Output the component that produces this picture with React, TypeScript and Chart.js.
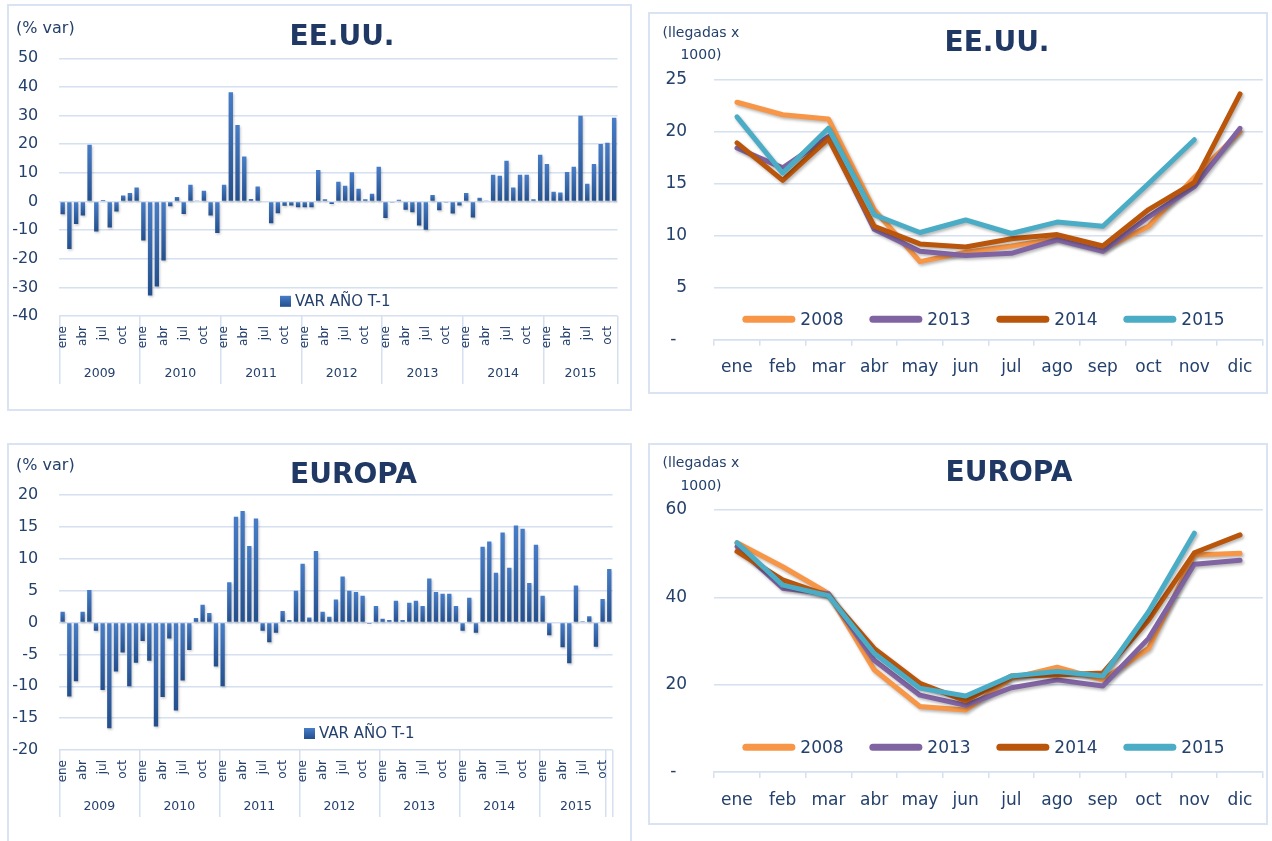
import React, { useEffect, useRef } from 'react';
import { Chart, registerables } from 'chart.js';

Chart.register(...registerables);

const FONT = '"DejaVu Sans", "Liberation Sans", sans-serif';
const TICK_COLOR = '#24406C';
const TITLE_COLOR = '#1F3864';
const GRID_COLOR = '#D5E0F0';
const PANEL_BORDER = '#D9E3F3';

// ---------- categories ----------
const MONTHS = ['ene', 'feb', 'mar', 'abr', 'may', 'jun', 'jul', 'ago', 'sep', 'oct', 'nov', 'dic'];
const SHOWN_MONTHS = ['ene', 'abr', 'jul', 'oct'];
const YEARS = ['2009', '2010', '2011', '2012', '2013', '2014', '2015'];
const MONTHS_PER_YEAR = [12, 12, 12, 12, 12, 12, 11];
const BAR_SERIES_LABEL = 'VAR AÑO T-1';
const LINE_YEARS = ['2008', '2013', '2014', '2015'];
const LINE_COLORS = ['#F79646', '#8064A2', '#BA560C', '#4BACC6'];

// ---------- EE.UU. % var (monthly, 2009 - nov 2015) ----------
const usaVar2009 = [-4.5, -16.6, -7.9, -4.9, 19.8, -10.5, 0.5, -9.1, -3.5, 2.1, 3.0, 4.9];
const usaVar2010 = [-13.6, -32.8, -29.7, -20.6, -1.7, 1.6, -4.4, 5.8, 0.2, 3.7, -4.9, -11.0];
const usaVar2011 = [5.8, 38.1, 26.7, 15.7, 0.9, 5.2, 0.0, -7.6, -4.1, -1.5, -1.4, -2.0];
const usaVar2012 = [-2.0, -2.0, 11.0, 0.8, -0.9, 6.9, 5.5, 10.2, 4.4, 0.8, 2.7, 12.1];
const usaVar2013 = [-5.8, -0.2, 0.6, -2.9, -3.8, -8.4, -9.9, 2.3, -3.1, -0.2, -4.2, -1.4];
const usaVar2014 = [3.0, -5.6, 1.3, 0.3, 9.3, 9.0, 14.2, 4.9, 9.3, 9.3, 0.8, 16.3];
const usaVar2015 = [13.1, 3.4, 3.1, 10.3, 12.1, 29.9, 6.2, 13.1, 20.1, 20.5, 29.2];

// ---------- EUROPA % var ----------
const euVar2009 = [1.7, -11.6, -9.2, 1.7, 5.1, -1.3, -10.6, -16.6, -7.7, -4.7, -10.0, -6.3];
const euVar2010 = [-2.9, -6.0, -16.3, -11.7, -2.5, -13.8, -9.1, -4.3, 0.7, 2.8, 1.5, -6.9];
const euVar2011 = [-10.0, 6.3, 16.6, 17.5, 12.0, 16.3, -1.3, -3.1, -1.6, 1.8, 0.4, 5.0];
const euVar2012 = [9.2, 0.8, 11.2, 1.7, 0.9, 3.6, 7.2, 5.0, 4.8, 4.2, -0.2, 2.6];
const euVar2013 = [0.6, 0.4, 3.4, 0.4, 3.1, 3.4, 2.6, 6.9, 4.8, 4.5, 4.5, 2.6];
const euVar2014 = [-1.3, 3.9, -1.6, 11.9, 12.7, 7.8, 14.1, 8.6, 15.2, 14.7, 6.2, 12.2];
const euVar2015 = [4.2, -2.0, 0.0, -3.9, -6.4, 5.8, 0.2, 1.0, -3.8, 3.7, 8.4];

// ---------- arrivals x 1000 ----------
const usa2008 = [22.8, 21.6, 21.2, 12.5, 7.5, 8.4, 9.0, 9.7, 8.7, 10.9, 15.6, 20.0];
const usa2013 = [18.4, 16.5, 19.5, 10.6, 8.5, 8.1, 8.3, 9.6, 8.5, 11.8, 14.7, 20.3];
const usa2014 = [18.9, 15.3, 19.3, 10.9, 9.2, 8.9, 9.7, 10.1, 9.0, 12.5, 15.1, 23.6];
const usa2015 = [21.4, 16.0, 20.3, 12.0, 10.3, 11.5, 10.2, 11.3, 10.9, 15.0, 19.2, null];

const eu2008 = [52.5, 47.0, 40.9, 23.4, 15.0, 14.2, 21.5, 24.0, 21.1, 28.3, 49.7, 50.1];
const eu2013 = [51.6, 42.1, 40.8, 25.6, 17.6, 15.3, 19.3, 21.1, 19.7, 30.6, 47.6, 48.5];
const eu2014 = [50.5, 44.0, 40.4, 28.3, 20.3, 16.3, 22.0, 22.2, 22.7, 34.8, 50.2, 54.3];
const eu2015 = [52.5, 42.8, 40.4, 27.2, 19.2, 17.4, 22.0, 23.0, 22.0, 36.7, 54.7, null];

// ---------- derived tables ----------
const monthlyLabels = YEARS.flatMap((_, i) => MONTHS.slice(0, MONTHS_PER_YEAR[i]));
const yearStarts: number[] = [];
MONTHS_PER_YEAR.forEach((n, i) => yearStarts.push(i === 0 ? 0 : yearStarts[i - 1] + MONTHS_PER_YEAR[i - 1]));
const yearCenters = yearStarts.map((s, i) => s + (MONTHS_PER_YEAR[i] - 1) / 2);
const usaVar = [usaVar2009, usaVar2010, usaVar2011, usaVar2012, usaVar2013, usaVar2014, usaVar2015].flat();
const euVar = [euVar2009, euVar2010, euVar2011, euVar2012, euVar2013, euVar2014, euVar2015].flat();

const BAR_TOP = '#477DC8';
const BAR_BOTTOM = '#244F8C';

function barGradient(ctx: any) {
  const chart = ctx.chart;
  if (!chart.chartArea || ctx.type !== 'data') return '#3567AE';
  const ys = chart.scales.y;
  const a = ys.getPixelForValue(0);
  const b = ys.getPixelForValue(ctx.raw as number);
  const top = Math.min(a, b);
  const bot = Math.max(a, b);
  if (bot - top < 0.5) return '#3567AE';
  const g = chart.ctx.createLinearGradient(0, top, 0, bot);
  g.addColorStop(0, BAR_TOP);
  g.addColorStop(1, BAR_BOTTOM);
  return g;
}

const shadowPlugin = {
  id: 'shadow',
  beforeDatasetsDraw(chart: any, _args: any, opts: any) {
    const c = chart.ctx;
    c.save();
    c.shadowColor = opts.color;
    c.shadowBlur = opts.blur;
    c.shadowOffsetX = opts.x;
    c.shadowOffsetY = opts.y;
  },
  afterDatasetsDraw(chart: any) {
    chart.ctx.restore();
  },
};

const barLegendPlugin = {
  id: 'barLegend',
  afterDraw(chart: any, _args: any, opts: any) {
    const c = chart.ctx;
    c.save();
    const s = 11;
    const g = c.createLinearGradient(0, opts.y - s / 2, 0, opts.y + s / 2);
    g.addColorStop(0, BAR_TOP);
    g.addColorStop(1, BAR_BOTTOM);
    c.fillStyle = g;
    c.fillRect(opts.x, opts.y - s / 2, s, s);
    c.font = `15px ${FONT}`;
    c.fillStyle = TICK_COLOR;
    c.textAlign = 'left';
    c.textBaseline = 'middle';
    c.fillText(chart.data.datasets[0].label, opts.x + 15, opts.y + 1);
    c.restore();
  },
};

const lineLegendPlugin = {
  id: 'lineLegend',
  afterDraw(chart: any, _args: any, opts: any) {
    const c = chart.ctx;
    const area = chart.chartArea;
    const ds = chart.data.datasets;
    c.save();
    c.font = `17px ${FONT}`;
    const sw = 53;
    const gap = 5;
    const step = 127;
    const lastW = c.measureText(ds[ds.length - 1].label).width;
    const total = (ds.length - 1) * step + sw + gap + lastW;
    let x = (area.left + area.right) / 2 + opts.offsetX - total / 2;
    const y = area.bottom - opts.fromBottom;
    ds.forEach((d: any) => {
      c.strokeStyle = d.borderColor;
      c.lineWidth = 7;
      c.lineCap = 'round';
      c.beginPath();
      c.moveTo(x + 3.5, y);
      c.lineTo(x + sw - 3.5, y);
      c.stroke();
      c.fillStyle = TICK_COLOR;
      c.textAlign = 'left';
      c.textBaseline = 'middle';
      c.fillText(d.label, x + sw + gap, y + 1);
      x += step;
    });
    c.restore();
  },
};

type BarOpts = {
  values: number[];
  yMin: number;
  yMax: number;
  step: number;
  padding: { left: number; top: number; right: number; bottom: number };
  tickLength: number;
  monthPad: number;
  yearPad: number;
  extraBoundaries: number[];
  legend: { x: number; y: number };
};

function barConfig(o: BarOpts): any {
  const boundaries = new Set<number>([...yearStarts, ...o.extraBoundaries]);
  return {
    type: 'bar',
    data: {
      labels: monthlyLabels,
      datasets: [
        {
          label: BAR_SERIES_LABEL,
          data: o.values,
          backgroundColor: barGradient,
          barPercentage: 0.65,
          categoryPercentage: 1,
          inflateAmount: 0,
        },
      ],
    },
    options: {
      responsive: false,
      animation: false,
      events: [],
      layout: { padding: o.padding },
      scales: {
        x: {
          type: 'category',
          position: 'bottom',
          weight: 1,
          offset: true,
          grid: {
            offset: true,
            drawOnChartArea: false,
            drawTicks: true,
            tickLength: o.tickLength,
            lineWidth: 1.5,
            color: (c: any) => (c.index === undefined || boundaries.has(c.index) ? GRID_COLOR : 'rgba(0,0,0,0)'),
          },
          border: { display: false },
          ticks: {
            autoSkip: false,
            minRotation: 90,
            maxRotation: 90,
            padding: o.monthPad,
            color: TICK_COLOR,
            font: { family: FONT, size: 12 },
            callback: (_v: any, i: number) => (SHOWN_MONTHS.includes(monthlyLabels[i]) ? monthlyLabels[i] : ''),
          },
          afterFit: (s: any) => {
            s.height = 44;
            s.paddingLeft = 0;
            s.paddingRight = 0;
          },
        },
        x2: {
          type: 'linear',
          axis: 'x',
          position: 'bottom',
          weight: 2,
          bounds: 'data',
          min: -0.5,
          max: monthlyLabels.length - 0.5,
          offset: false,
          grid: { display: false, drawTicks: false },
          border: { display: false },
          afterBuildTicks: (s: any) => {
            s.ticks = yearCenters.map((v) => ({ value: v }));
          },
          ticks: {
            autoSkip: false,
            maxRotation: 0,
            minRotation: 0,
            padding: o.yearPad,
            color: TICK_COLOR,
            font: { family: FONT, size: 12.5 },
            callback: (v: number) => {
              const i = yearCenters.indexOf(v);
              return i >= 0 ? YEARS[i] : '';
            },
          },
          afterFit: (s: any) => {
            s.height = 30;
            s.paddingLeft = 0;
            s.paddingRight = 0;
          },
        },
        y: {
          min: o.yMin,
          max: o.yMax,
          ticks: { stepSize: o.step, padding: 21, color: TICK_COLOR, font: { family: FONT, size: 16 } },
          grid: { color: GRID_COLOR, lineWidth: 1.5, drawTicks: false },
          border: { display: false },
          afterFit: (s: any) => {
            s.width = 50.3;
          },
        },
      },
      plugins: {
        legend: { display: false },
        tooltip: { enabled: false },
        shadow: { color: 'rgba(0,0,0,0.22)', blur: 2.5, x: 1, y: 1.5 },
        barLegend: o.legend,
      },
    },
    plugins: [shadowPlugin, barLegendPlugin],
  };
}

type LineOpts = {
  series: (number | null)[][];
  yMax: number;
  step: number;
  padding: { left: number; top: number; right: number; bottom: number };
  legendFromBottom: number;
};

function lineConfig(o: LineOpts): any {
  return {
    type: 'line',
    data: {
      labels: MONTHS,
      datasets: o.series.map((d, i) => ({
        label: LINE_YEARS[i],
        data: d,
        borderColor: LINE_COLORS[i],
        backgroundColor: LINE_COLORS[i],
        order: o.series.length - i,
      })),
    },
    options: {
      responsive: false,
      animation: false,
      events: [],
      layout: { padding: o.padding },
      elements: {
        line: { borderWidth: 5, tension: 0, borderCapStyle: 'round', borderJoinStyle: 'round' },
        point: { radius: 0 },
      },
      scales: {
        x: {
          offset: true,
          grid: { offset: true, drawOnChartArea: false, color: GRID_COLOR, lineWidth: 1.5, tickLength: 6 },
          border: { color: GRID_COLOR, width: 1.5 },
          ticks: { autoSkip: false, maxRotation: 0, padding: 12, color: TICK_COLOR, font: { family: FONT, size: 17 } },
          afterFit: (s: any) => {
            s.height = 45;
            s.paddingLeft = 0;
            s.paddingRight = 0;
          },
        },
        y: {
          min: 0,
          max: o.yMax,
          ticks: {
            stepSize: o.step,
            padding: 27,
            color: TICK_COLOR,
            font: { family: FONT, size: 17 },
            callback: (v: number) => (v === 0 ? '-\u2007' : String(v)),
          },
          grid: { color: GRID_COLOR, lineWidth: 1.5, drawTicks: false },
          border: { display: false },
          afterFit: (s: any) => {
            s.width = 64.1;
          },
        },
      },
      plugins: {
        legend: { display: false },
        tooltip: { enabled: false },
        shadow: { color: 'rgba(0,0,0,0.28)', blur: 3, x: 1.5, y: 2 },
        lineLegend: { offsetX: -5, fromBottom: o.legendFromBottom },
      },
    },
    plugins: [shadowPlugin, lineLegendPlugin],
  };
}

function ChartCanvas(props: { left: number; top: number; width: number; height: number; make: () => any }) {
  const ref = useRef<HTMLCanvasElement>(null);
  useEffect(() => {
    const chart = new Chart(ref.current as HTMLCanvasElement, props.make());
    return () => chart.destroy();
  }, []);
  return (
    <canvas
      ref={ref}
      width={props.width}
      height={props.height}
      style={{ position: 'absolute', left: props.left, top: props.top, width: props.width, height: props.height }}
    />
  );
}

function Panel(p: { left: number; top: number; width: number; height: number }) {
  return (
    <div
      style={{
        position: 'absolute',
        left: p.left,
        top: p.top,
        width: p.width,
        height: p.height,
        border: `2px solid ${PANEL_BORDER}`,
        boxSizing: 'border-box',
      }}
    />
  );
}

function Text(p: { cx?: number; left?: number; cy: number; size: number; bold?: boolean; color?: string; children: any }) {
  const lh = p.size * 1.2;
  const style: any = {
    position: 'absolute',
    top: p.cy - lh / 2,
    height: lh,
    lineHeight: `${lh}px`,
    fontSize: p.size,
    fontFamily: FONT,
    fontWeight: p.bold ? 'bold' : 'normal',
    color: p.color || TICK_COLOR,
    whiteSpace: 'nowrap',
  };
  if (p.cx !== undefined) {
    style.left = p.cx - 200;
    style.width = 400;
    style.textAlign = 'center';
  } else {
    style.left = p.left;
  }
  return <div style={style}>{p.children}</div>;
}

export default function App() {
  return (
    <div
      style={{
        position: 'absolute',
        left: 0,
        top: 0,
        width: 1272,
        height: 841,
        overflow: 'hidden',
        background: '#ffffff',
      }}
    >
      <Panel left={7} top={4} width={625} height={407} />
      <Panel left={648} top={12} width={620} height={382} />
      <Panel left={7} top={443} width={625} height={420} />
      <Panel left={648} top={443} width={620} height={382} />

      <ChartCanvas
        left={9}
        top={6}
        width={621}
        height={403}
        make={() =>
          barConfig({
            values: usaVar,
            yMin: -40,
            yMax: 50,
            step: 10,
            padding: { left: 0, top: 52.3, right: 12.5, bottom: 19 },
            tickLength: 68,
            monthPad: -58,
            yearPad: 6.5,
            extraBoundaries: [],
            legend: { x: 271, y: 295.3 },
          })
        }
      />
      <ChartCanvas
        left={9}
        top={445}
        width={621}
        height={396}
        make={() =>
          barConfig({
            values: euVar,
            yMin: -20,
            yMax: 20,
            step: 5,
            padding: { left: 0, top: 50, right: 17.4, bottom: 17 },
            tickLength: 67,
            monthPad: -57,
            yearPad: 5.5,
            extraBoundaries: [monthlyLabels.length - 1],
            legend: { x: 295, y: 288.5 },
          })
        }
      />
      <ChartCanvas
        left={650}
        top={14}
        width={616}
        height={378}
        make={() =>
          lineConfig({
            series: [usa2008, usa2013, usa2014, usa2015],
            yMax: 25,
            step: 5,
            padding: { left: 0, top: 65.3, right: 3.1, bottom: 7.2 },
            legendFromBottom: 20.5,
          })
        }
      />
      <ChartCanvas
        left={650}
        top={445}
        width={616}
        height={378}
        make={() =>
          lineConfig({
            series: [eu2008, eu2013, eu2014, eu2015],
            yMax: 60,
            step: 20,
            padding: { left: 0, top: 65, right: 3.1, bottom: 6 },
            legendFromBottom: 24.7,
          })
        }
      />

      <Text left={16} cy={27.5} size={16}>(% var)</Text>
      <Text left={16} cy={465} size={16}>(% var)</Text>
      <Text cx={342} cy={36} size={28} bold color={TITLE_COLOR}>EE.UU.</Text>
      <Text cx={353.5} cy={473.5} size={28} bold color={TITLE_COLOR}>EUROPA</Text>
      <Text cx={997} cy={42} size={28} bold color={TITLE_COLOR}>EE.UU.</Text>
      <Text cx={1009} cy={471.5} size={28} bold color={TITLE_COLOR}>EUROPA</Text>
      <Text cx={701} cy={32} size={14}>(llegadas x</Text>
      <Text cx={701} cy={54.5} size={14}>1000)</Text>
      <Text cx={701} cy={462.5} size={14}>(llegadas x</Text>
      <Text cx={701} cy={485.5} size={14}>1000)</Text>
    </div>
  );
}
